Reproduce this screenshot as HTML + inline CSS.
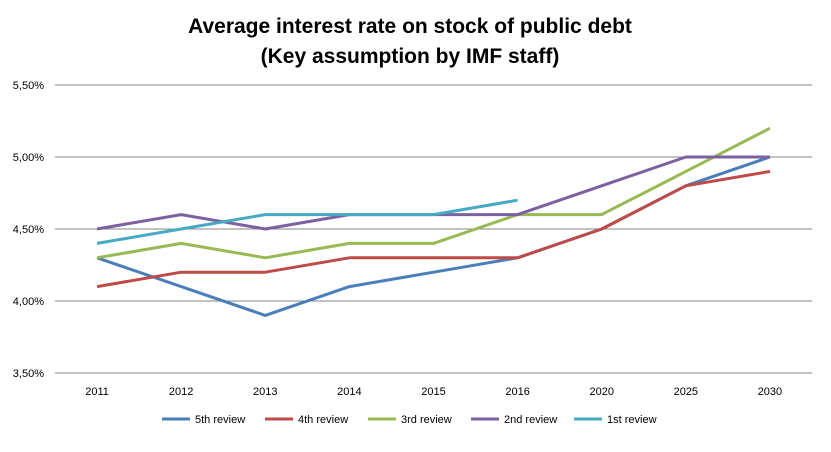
<!DOCTYPE html>
<html><head><meta charset="utf-8"><style>
body{margin:0;background:#fff;font-family:"Liberation Sans",sans-serif}
</style></head><body>
<svg id="c" width="831" height="447" xmlns="http://www.w3.org/2000/svg">
<text x="410" y="33" text-anchor="middle" font-size="21" font-weight="bold">Average interest rate on stock of public debt</text>
<text x="410" y="63" text-anchor="middle" font-size="21" font-weight="bold">(Key assumption by IMF staff)</text>
<g id="grid"></g><g id="series"></g><g id="legend"></g>
</svg>
<script>
const categories=["2011","2012","2013","2014","2015","2016","2020","2025","2030"];
const yTicks=[3.5,4.0,4.5,5.0,5.5];
const seriesNames=["5th review","4th review","3rd review","2nd review","1st review"];
const colors=["#4A7EBB","#BE4B48","#98B954","#7D60A0","#46AAC5"];
const s5=[4.3,4.1,3.9,4.1,4.2,4.3,4.5,4.8,5.0];
const s4=[4.1,4.2,4.2,4.3,4.3,4.3,4.5,4.8,4.9];
const s3=[4.3,4.4,4.3,4.4,4.4,4.6,4.6,4.9,5.2];
const s2=[4.5,4.6,4.5,4.6,4.6,4.6,4.8,5.0,5.0];
const s1=[4.4,4.5,4.6,4.6,4.6,4.7,null,null,null];
const allSeries=[s5,s4,s3,s2,s1];
const NS="http://www.w3.org/2000/svg";
const x0=55,x1=812,y0=373,y1=85;
const xs=i=>x0+(x1-x0)/categories.length*(i+0.5);
const ys=v=>y0-(v-3.5)/2.0*(y0-y1);
function mk(t,a,p){const e=document.createElementNS(NS,t);for(const k in a)e.setAttribute(k,a[k]);p.appendChild(e);return e;}
const g=document.getElementById('grid');
yTicks.forEach(v=>{
 const l=mk('line',{x1:x0,x2:x1,y1:ys(v),y2:ys(v),stroke:'#868686','stroke-width':1},g);
 
 
 const t=mk('text',{x:44,y:ys(v)+4,'text-anchor':'end','font-size':11},g);
 t.textContent=v.toFixed(2).replace('.',',')+'%';
 
 
});
categories.forEach((c,i)=>{
 const t=mk('text',{x:xs(i),y:395,'text-anchor':'middle','font-size':11},g);
 t.textContent=c;
 
 
});
const sg=document.getElementById('series');
allSeries.forEach((s,k)=>{
 let d='';s.forEach((v,i)=>{if(v==null)return;d+=(d?'L':'M')+xs(i)+' '+ys(v);});
 const p=mk('path',{d:d,fill:'none',stroke:colors[k],'stroke-width':3,'stroke-linejoin':'round'},sg);
 
 
});
const lg=document.getElementById('legend');
seriesNames.forEach((n,k)=>{
 const x=162+k*103;
 const l=mk('line',{x1:x,x2:x+28,y1:419,y2:419,stroke:colors[k],'stroke-width':3},lg);
 
 
 const t=mk('text',{x:x+33,y:423,'font-size':11},lg);
 t.textContent=n;
 
 
});
</script>
</body></html>
